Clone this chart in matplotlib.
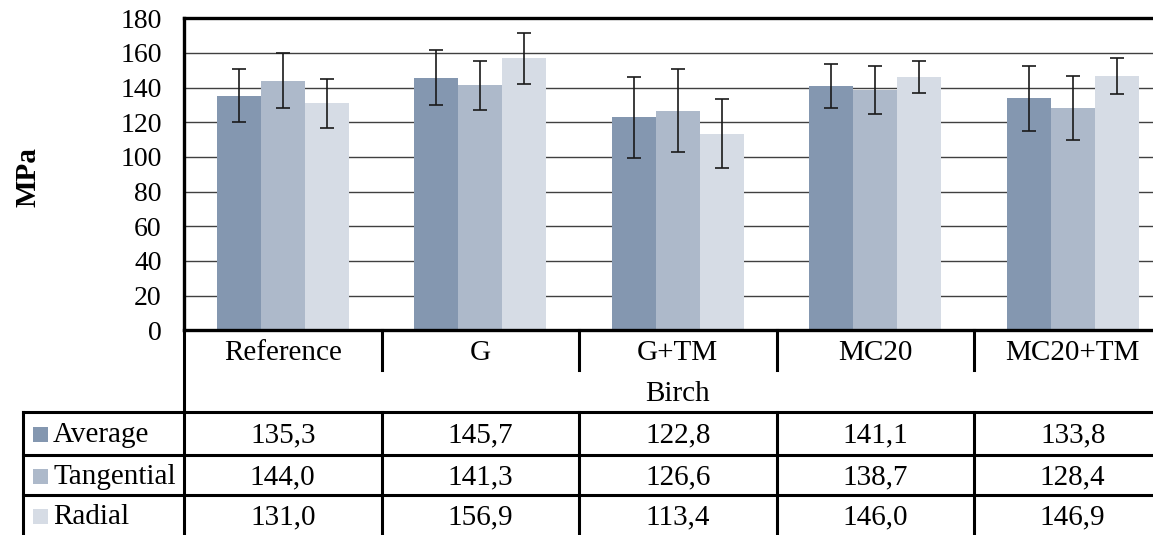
import matplotlib
matplotlib.use("Agg")
import matplotlib.pyplot as plt
import numpy as np

plt.rcParams['font.family'] = ['Liberation Serif', 'DejaVu Serif']

categories = ["Reference", "G", "G+TM", "MC20", "MC20+TM"]
group_label = "Birch"
series_names = ["Average", "Tangential", "Radial"]
average = [135.3, 145.7, 122.8, 141.1, 133.8]
tangential = [144.0, 141.3, 126.6, 138.7, 128.4]
radial = [131.0, 156.9, 113.4, 146.0, 146.9]
average_err = [15.2, 16.0, 23.2, 12.6, 18.6]
tangential_err = [15.8, 14.0, 24.0, 13.7, 18.6]
radial_err = [14.0, 14.8, 19.8, 9.3, 10.4]
y_ticks = [0, 20, 40, 60, 80, 100, 120, 140, 160, 180]
y_label = "MPa"

colors = ["#8497B0", "#ADB9CA", "#D6DCE5"]
series = [average, tangential, radial]
errors = [average_err, tangential_err, radial_err]

W, H = 1153, 535
fig = plt.figure(figsize=(W / 100, H / 100), dpi=100)
left_px, cat_px = 184.0, 197.5
right_px = left_px + cat_px * len(categories)
top_px, bot_px = 18.3, 330.3

ax = fig.add_axes([left_px / W, 1 - bot_px / H, (right_px - left_px) / W, (bot_px - top_px) / H])
x = np.arange(len(categories))
bw = 0.223
for i, (vals, errs, c) in enumerate(zip(series, errors, colors)):
    xs = x + (i - 1) * bw
    ax.bar(xs, vals, width=bw, color=c, zorder=2)
    ax.errorbar(xs, vals, yerr=errs, fmt='none', ecolor='#1a1a1a', elinewidth=1.2,
                capsize=4.7, capthick=1.2, zorder=3)

ax.set_xlim(-0.5, len(categories) - 0.5)
ax.set_ylim(0, 180)
ax.set_yticks(y_ticks)
ax.set_xticks([])
ax.tick_params(axis='y', length=0, pad=16, labelsize=20)
ax.yaxis.grid(True, color='#404040', linewidth=1.0)
ax.set_axisbelow(True)
for s in ax.spines.values():
    s.set_linewidth(2.4)
    s.set_color('black')

fig.text(28 / W, 1 - 177 / H, y_label, rotation=90, fontweight='bold', fontsize=21,
         ha='center', va='center')

# data table overlay (pixel y coords, category x coords)
tab = fig.add_axes([left_px / W, 0, (right_px - left_px) / W, 1])
tab.set_xlim(-0.5, len(categories) - 0.5)
tab.set_ylim(H, 0)
tab.axis('off')
tab.patch.set_visible(False)

def px2x(px):
    return -0.5 + (px - left_px) / cat_px

lw = 2.2
kw = dict(color='black', linewidth=lw, clip_on=False, solid_capstyle='projecting')
tab.plot([-0.5, -0.5], [bot_px, H + 5], **kw)
for k in range(len(categories) - 1):
    tab.plot([k + 0.5, k + 0.5], [bot_px, 370], **kw)
    tab.plot([k + 0.5, k + 0.5], [412, H + 5], **kw)
x0 = px2x(23)
xend = len(categories) - 0.5 + 0.2
for yy in [412, 455, 495]:
    tab.plot([x0, xend], [yy, yy], **kw)
tab.plot([x0, x0], [412, H + 5], **kw)

fs = 21
for i, c in enumerate(categories):
    tab.text(i, 360, c, ha='center', va='baseline', fontsize=fs, clip_on=False)
tab.text((len(categories) - 1) / 2, 401, group_label, ha='center', va='baseline', fontsize=fs)

baselines = [442.5, 484.5, 524.5]
for name, vals, c, bl in zip(series_names, series, colors, baselines):
    tab.add_patch(plt.Rectangle((px2x(33), bl - 16), px2x(48) - px2x(33), 15,
                                facecolor=c, edgecolor='none', clip_on=False))
    tab.text(px2x(53), bl, name, ha='left', va='baseline', fontsize=fs, clip_on=False)
    for i, v in enumerate(vals):
        tab.text(i, bl, f"{v:.1f}".replace('.', ','), ha='center', va='baseline',
                 fontsize=fs, clip_on=False)

fig.savefig("out.png", dpi=100)
